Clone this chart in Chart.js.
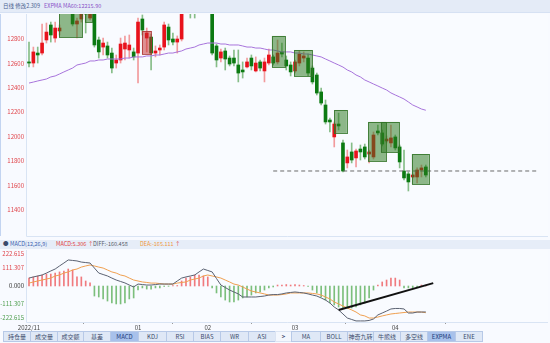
<!DOCTYPE html>
<html><head><meta charset="utf-8">
<script src="https://cdn.jsdelivr.net/npm/chart.js@4/dist/chart.umd.min.js"></script>
<style>
html,body{margin:0;padding:0;width:550px;height:343px;overflow:hidden;background:#f8faff;font-family:"Noto Sans CJK SC","Noto Sans",sans-serif;}
.abs{position:absolute;}
#hdr{left:0;top:0;width:550px;height:12px;background:#e4ebf7;border-bottom:1px solid #d6e1f3;font-size:5.5px;line-height:12px;white-space:nowrap;}
#hdr span{position:absolute;top:0;}
#mhdr{left:0;top:240px;width:550px;height:9px;background:#e6edf8;font-size:5.5px;line-height:9px;white-space:nowrap;}
#mhdr span{position:absolute;top:0;}
#tabs{left:0;top:331px;width:550px;height:12px;}
.tab{position:absolute;top:0;border:1px solid #b7c9e7;background:#dfe8f6;color:#3c4c6c;font-size:6px;line-height:9px;text-align:center;box-sizing:border-box;height:11px;}
.tab.on{background:#a8c1eb;color:#1d3b7a;}
.tab.arr{background:#f4f7fd;border-color:#dbe4f3;font-weight:bold;}
#main{left:0;top:0;}
#macd{left:0;top:249px;}
#lstripe{left:0;top:14px;width:1px;height:222px;background:#c3d4f1;}
</style></head>
<body>
<canvas id="main" class="abs" width="550" height="237"></canvas>
<canvas id="macd" class="abs" width="550" height="82"></canvas>
<div id="lstripe" class="abs"></div>
<div id="hdr" class="abs">
  <span style="left:3px;color:#4a5f8f;">日线 修改2.309</span>
  <span style="left:44px;color:#8a52c8;">EXPMA MA60:12215.90</span>
</div>
<div id="mhdr" class="abs">
  <span style="left:3px;color:#3a4a6a;">●</span>
  <span style="left:10px;color:#3a5fb0;">MACD(12,26,9)</span>
  <span style="left:56px;color:#e04040;">MACD:5.306</span>
  <span style="left:88px;color:#e04040;">↑</span>
  <span style="left:93px;color:#555a66;">DIFF:-160.458</span>
  <span style="left:140px;color:#ef9638;">DEA:-165.111</span>
  <span style="left:175px;color:#e04040;">↑</span>
</div>
<div id="tabs" class="abs"></div>
<script>
// ---------------- DATA ----------------
const openP  = [12612,12603,12685,12685,12792,12915,12808,12866,13021,13087,13038,12923,12964,13054,12972,13038,12792,12734,12743,12685,12603,12628,12718,12710,12694,12685,12964,12808,12816,12685,12710,12734,12898,12800,12775,12800,13038,13054,13062,13054,13120,13079,13079,12743,12644,12702,12644,12644,12587,12546,12571,12644,12538,12612,12538,12603,12653,12612,12694,12628,12587,12538,12603,12644,12644,12562,12505,12366,12259,12136,11997,12103,11948,11784,11874,11825,11898,11915,11857,11833,12046,12030,11964,11948,11997,11915,11718,11694,11669,11669,11726,11751];
const highP  = [12775,12734,12734,12923,12931,12939,12939,12915,13103,13120,13054,12972,13079,13079,13079,13054,12816,12808,12775,12726,12669,12808,12825,12833,12726,12972,12997,12890,12841,12743,12751,12939,12923,12849,12825,13120,13144,13079,13087,13144,13144,13153,13095,12759,12718,12726,12661,12710,12710,12612,12644,12669,12653,12628,12644,12718,12669,12792,12767,12661,12612,12628,12702,12694,12677,12579,12521,12398,12300,12152,12120,12193,11972,11890,11948,11898,11931,11939,11890,12038,12095,12054,12005,12095,12013,11931,11890,11710,11694,11743,11767,11767];
const lowP   = [12571,12571,12603,12669,12767,12775,12775,12833,13013,13021,12907,12808,12939,12849,12956,12734,12644,12669,12644,12521,12562,12603,12628,12644,12628,12439,12833,12694,12546,12653,12669,12710,12751,12751,12685,12784,13021,12972,12972,13038,13046,13054,12669,12571,12612,12546,12579,12579,12448,12480,12562,12546,12530,12538,12448,12587,12587,12595,12653,12546,12497,12521,12579,12612,12497,12431,12341,12259,12103,12038,11915,12054,11710,11743,11784,11751,11808,11816,11784,11816,12013,11923,11948,11915,11890,11743,11644,11554,11661,11620,11669,11669];
const closeP = [12603,12694,12669,12767,12857,12833,12890,12890,13079,13038,12923,12948,13054,13005,13038,12751,12694,12767,12669,12562,12628,12759,12767,12751,12653,12939,12874,12849,12685,12702,12726,12915,12792,12775,12800,13079,13120,13021,13030,13120,13070,13120,12685,12628,12694,12636,12595,12603,12521,12530,12612,12579,12603,12562,12612,12669,12603,12685,12677,12579,12530,12612,12677,12661,12521,12448,12357,12275,12120,12120,12103,12087,11718,11833,11808,11882,11874,11833,11874,12013,12030,11939,11980,11989,11907,11792,11661,11628,11685,11726,11743,11685];
const ma60   = [12439,12447,12456,12464,12472,12489,12497,12513,12530,12546,12562,12587,12595,12603,12620,12620,12628,12628,12636,12636,12636,12636,12644,12644,12653,12653,12653,12661,12661,12669,12669,12677,12685,12685,12694,12702,12718,12726,12734,12751,12759,12767,12767,12767,12759,12759,12751,12751,12751,12743,12734,12734,12726,12726,12718,12710,12710,12702,12694,12694,12694,12685,12685,12677,12677,12669,12661,12653,12636,12620,12603,12587,12570,12546,12530,12505,12489,12464,12448,12431,12415,12398,12382,12358,12341,12325,12308,12284,12259,12243,12226,12216];
const diffV  = [49,56,62,68,80,93,105,124,142,161,158,155,148,145,142,111,80,71,62,49,37,28,19,6,-6,12,9,6,6,9,12,12,12,12,31,49,56,62,68,87,105,96,87,46,6,-9,-25,-37,-49,-68,-68,-68,-68,-65,-62,-56,-53,-53,-49,-43,-40,-37,-40,-43,-49,-56,-62,-74,-87,-105,-130,-148,-173,-198,-207,-216,-216,-216,-213,-204,-179,-167,-155,-142,-139,-139,-142,-167,-167,-161,-161,-160.458];
const deaV   = [18,25,31,37,43,49,62,68,80,87,99,105,117,124,130,124,117,111,99,87,80,68,62,49,37,31,25,22,18,18,15,12,12,12,18,22,25,37,43,49,62,68,62,56,49,37,25,12,6,-6,-19,-31,-37,-43,-49,-56,-56,-56,-53,-49,-43,-43,-43,-43,-43,-46,-49,-56,-68,-80,-99,-111,-124,-136,-148,-161,-179,-185,-198,-198,-192,-185,-179,-173,-170,-167,-164,-161,-161,-161,-161,-165.111];
const macdV  = [49,56,62,68,74,74,80,87,93,105,99,56,56,31,19,-62,-68,-80,-93,-105,-111,-111,-105,-80,-74,-25,-12,-19,-19,-12,-12,-3,-2,2,3,31,49,56,68,68,62,56,-12,-43,-68,-87,-99,-99,-87,-74,-68,-56,-43,-37,-25,-12,-6,6,6,9,6,9,6,3,-3,-25,-43,-68,-87,-105,-117,-130,-136,-136,-136,-130,-117,-105,-74,-25,6,25,37,49,49,37,-12,-12,-12,-6,6,5.306];
// price-level line, trend line, pattern boxes
const hLineLevel = 11718, hLineFrom = 56, hLineTo = 116.5;
const trendX = [71, 92.7], trendY = [-148, 18];
const boxFrom = [6.9, 12.85, 25.9, 55.7, 60.8, 70.0, 77.8, 80.7, 87.8];
const boxTo   = [12.2, 14.45, 28.0, 58.7, 64.9, 72.9, 81.9, 84.9, 91.7];
const boxHigh = [13070, 13070, 12866, 12825, 12710, 12218, 12120, 12120, 11857];
const boxLow  = [12816, 12939, 12677, 12571, 12497, 12030, 11800, 11873, 11611];
const boxKind = ['g','g','r','g','g','g','g','g','g'];
const yTicks = [11400,11600,11800,12000,12200,12400,12600,12800];
const macdTicks = [222.615,111.307,0,-111.307,-222.615];
const monthTickIdx = [0,25,41,61,84];
const monthTickText = ['2022/11','01','02','03','04'];
const tabNames = ['持仓量','成交量','成交额','基差','MACD','KDJ','RSI','BIAS','WR','ASI','>','MA','BOLL','神奇九转','牛熊线','多空线','EXPMA','ENE'];

// ---------------- TABS ----------------
const tabEdges = [3,30,57,83,110,138,166,193,220,248,275,291,320,347,373,400,427,455,482];
const tabsEl = document.getElementById('tabs');
tabNames.forEach((t,k)=>{
  const d=document.createElement('div');
  d.className='tab'+((t==='MACD'||t==='EXPMA')?' on':'')+(t==='>'?' arr':'');
  d.style.left=tabEdges[k]+'px'; d.style.width=(tabEdges[k+1]-tabEdges[k]+1)+'px';
  d.textContent=t; tabsEl.appendChild(d);
});

// ---------------- HELPERS ----------------
const FONT = '"Noto Sans CJK SC","Noto Sans",sans-serif';
const RED='#e8121c', GREEN='#0c7a12', RED_W='#f29a9c', GREEN_W='#86bd88';
const N = openP.length;
const isUp = i => closeP[i] >= openP[i];
const XMIN=-0.688, XMAX=119.02;

const framePlugin = {
  id:'frame',
  beforeDatasetsDraw(chart){
    const {ctx, chartArea:a} = chart;
    ctx.save(); ctx.fillStyle='#f9fbff'; ctx.fillRect(a.left,a.top,a.right-a.left,a.bottom-a.top); ctx.restore();
  },
  afterDraw(chart){
    const {ctx, chartArea:a} = chart;
    ctx.save(); ctx.strokeStyle='#d9e4f4'; ctx.lineWidth=1;
    ctx.beginPath(); ctx.moveTo(a.left+0.5,a.top); ctx.lineTo(a.left+0.5,a.bottom+0.5); ctx.lineTo(a.right,a.bottom+0.5); ctx.stroke();
    ctx.restore();
  }
};

const boxPlugin = {
  id:'boxes',
  afterDatasetsDraw(chart){
    const {ctx, chartArea:a, scales:{x,y}} = chart;
    ctx.save();
    ctx.beginPath(); ctx.rect(a.left,a.top,a.right-a.left,a.bottom-a.top); ctx.clip();
    boxFrom.forEach((f,k)=>{
      const x1=x.getPixelForValue(f), x2=x.getPixelForValue(boxTo[k]);
      const y1=y.getPixelForValue(boxHigh[k]), y2=y.getPixelForValue(boxLow[k]);
      if(boxKind[k]==='r'){ ctx.fillStyle='rgba(196,40,40,0.5)'; ctx.strokeStyle='rgba(170,50,50,0.8)'; }
      else { ctx.fillStyle='rgba(42,120,28,0.52)'; ctx.strokeStyle='rgba(50,115,40,0.85)'; }
      ctx.fillRect(x1,y1,x2-x1,y2-y1);
      ctx.lineWidth=1; ctx.strokeRect(Math.round(x1)+0.5,Math.round(y1)+0.5,Math.round(x2-x1),Math.round(y2-y1));
    });
    ctx.restore();
  }
};

// draws y labels right-aligned at the left margin, kept inside the plot's vertical range
function axisLabelPlugin(id, vals, fmt, colorOf){
  return {
    id,
    afterDraw(chart){
      const {ctx, chartArea:a, scales:{y}} = chart;
      ctx.save(); ctx.font='6px '+FONT; ctx.textAlign='right'; ctx.textBaseline='middle';
      vals.forEach(v=>{
        let py=y.getPixelForValue(v); py=Math.min(Math.max(py,a.top+4),a.bottom-4);
        ctx.fillStyle = colorOf(v);
        ctx.fillText(fmt(v), 24, py);
      });
      ctx.restore();
    }
  };
}

// ---------------- MAIN CHART ----------------
const idx = Array.from({length:N},(_,i)=>i);
new Chart(document.getElementById('main'), {
  type:'bar',
  data:{ datasets:[
    { type:'line', data: ma60.map((v,i)=>({x:i,y:v})), borderColor:'#a874dc', borderWidth:1, pointRadius:0, order:1 },
    { type:'line', data:[{x:hLineFrom,y:hLineLevel},{x:hLineTo,y:hLineLevel}], borderColor:'#6a6a6a', borderWidth:1, borderDash:[4,3], pointRadius:0, order:1 },
    { data: idx.map(i=>({x:i,y:[Math.min(openP[i],closeP[i]),Math.max(openP[i],closeP[i])]})),
      backgroundColor: idx.map(i=>isUp(i)?RED:GREEN), barThickness:3, minBarLength:1, grouped:false, order:2 },
    { data: idx.map(i=>({x:i,y:[lowP[i],highP[i]]})),
      backgroundColor: idx.map(i=>isUp(i)?RED_W:GREEN_W), barThickness:1, grouped:false, order:3 }
  ]},
  options:{
    responsive:false, animation:false, events:[],
    layout:{ padding:{left:0,right:2,top:14,bottom:1}, autoPadding:false },
    plugins:{ legend:{display:false}, tooltip:{enabled:false} },
    scales:{
      x:{ type:'linear', min:XMIN, max:XMAX, offset:false, display:false },
      y:{ min:11185, max:13005, position:'left',
          afterFit: s=>{ s.width=26; },
          ticks:{ display:false }, grid:{ display:false, drawTicks:false }, border:{ display:false } }
    }
  },
  plugins:[framePlugin, boxPlugin, axisLabelPlugin('mainLabels', yTicks, v=>String(v), ()=> '#e0464c')]
});

// ---------------- MACD CHART ----------------
new Chart(document.getElementById('macd'), {
  type:'bar',
  data:{ datasets:[
    { type:'line', data:[{x:trendX[0],y:trendY[0]},{x:trendX[1],y:trendY[1]}], borderColor:'#111', borderWidth:2, pointRadius:0, order:0 },
    { type:'line', data: diffV.map((v,i)=>({x:i,y:v})), borderColor:'#5b6272', borderWidth:1, pointRadius:0, order:1 },
    { type:'line', data: deaV.map((v,i)=>({x:i,y:v})), borderColor:'#f0a050', borderWidth:1, pointRadius:0, order:1 },
    { data: macdV.map((v,i)=>({x:i,y:v})), backgroundColor: macdV.map(v=>v>=0?'#f07a7e':'#7cbf7c'),
      barThickness:1, grouped:false, order:2 }
  ]},
  options:{
    responsive:false, animation:false, events:[],
    layout:{ padding:{left:0,right:2,top:1,bottom:0}, autoPadding:false },
    plugins:{ legend:{display:false}, tooltip:{enabled:false} },
    scales:{
      x:{ type:'linear', min:XMIN, max:XMAX, offset:false, position:'bottom',
          afterBuildTicks: s=>{ s.ticks = monthTickIdx.map(v=>({value:v})); },
          afterFit: s=>{ s.height=9; },
          ticks:{ color:'#444', font:{size:6, family:FONT}, padding:0, maxRotation:0, autoSkip:false,
                  callback:(v,k)=>monthTickText[k] },
          grid:{ display:true, drawOnChartArea:false, drawTicks:true, tickLength:2, color:'#999' },
          border:{ display:false } },
      y:{ min:-222.615, max:222.615, position:'left',
          afterFit: s=>{ s.width=26; },
          ticks:{ display:false }, grid:{ display:false }, border:{ display:false } }
    }
  },
  plugins:[framePlugin, axisLabelPlugin('macdLabels', macdTicks, v=>v.toFixed(3), v=> v>0 ? '#e0464c' : (v<0 ? '#4e9e4e' : '#333'))]
});
</script>
</body></html>
